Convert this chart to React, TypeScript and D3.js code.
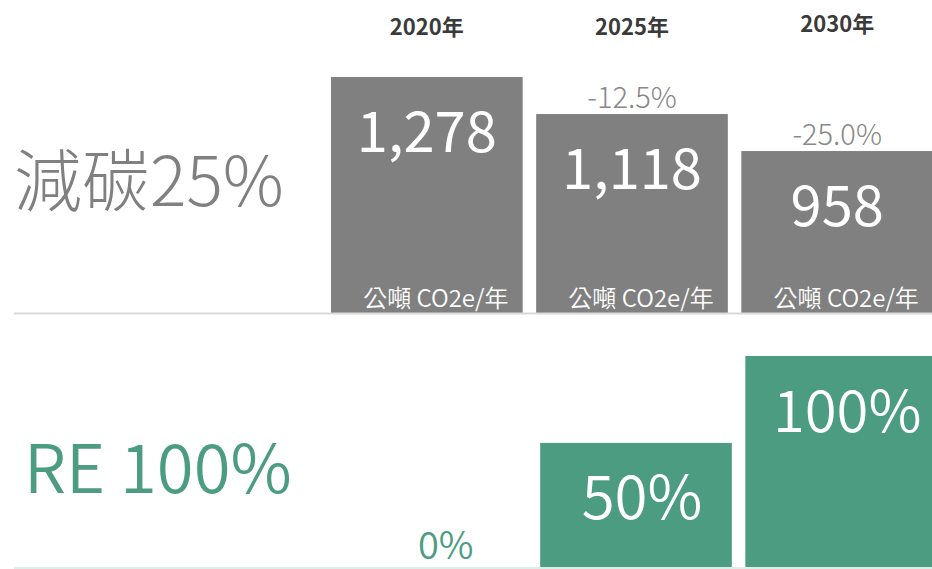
import React from "react";
import * as d3 from "d3";

const years = ["2020年", "2025年", "2030年"];
const emissions = [1278, 1118, 958];
const reShare = [0, 50, 100];
const unitLabel = "公噸 CO2e/年";
const topTitle = "減碳25%";
const bottomTitle = "RE 100%";

const W = 932;
const H = 569;
const FONT = "'Noto Sans CJK TC', 'Noto Sans', sans-serif";
const GRAY = "#808080";
const GREEN = "#4c9c82";

export default function App() {
  const xTop = d3.scaleBand<string>().domain(years).range([331, 933]).paddingInner(0.066);
  const xBot = d3.scaleBand<string>().domain(years).range([335, 937]).paddingInner(0.066);
  const yTop = d3.scaleLinear().domain([258, 1278]).range([313, 77]);
  const yBot = d3.scaleLinear().domain([-22, 100]).range([568, 356]);
  const locale = d3.formatLocale({ decimal: ".", thousands: ",", grouping: [3], currency: ["", ""], minus: "-" });
  const fmtNum = locale.format(",");
  const fmtPct = locale.format(".1f");
  const base = emissions[0];
  const bw = xTop.bandwidth();

  return (
    <svg width={W} height={H} style={{ position: "absolute", left: 0, top: 0, background: "#fff" }} fontFamily={FONT}>
      {/* titles */}
      <text x={14} y={206} fontSize={68} fill={GRAY} fontWeight={300}>{topTitle}</text>
      <text x={24} y={493} fontSize={67} fill={GREEN} fontWeight={350}>{bottomTitle}</text>

      {/* top panel */}
      {years.map((yr, i) => {
        const x0 = xTop(yr)!;
        const cx = x0 + bw / 2;
        const top = yTop(emissions[i]);
        const change = (emissions[i] / base - 1) * 100;
        return (
          <g key={yr}>
            <text x={cx} y={i === 2 ? 32 : 35} textAnchor="middle" fontSize={22} fontWeight={600} fill="#3a3a3a">{yr}</text>
            <rect x={x0} y={top} width={bw} height={313 - top} fill={GRAY} />
            {i > 0 && (
              <text x={cx} y={top - 6} textAnchor="middle" fontSize={29} fill="#888" fontWeight={300}>{fmtPct(change) + "%"}</text>
            )}
            <text x={cx} y={top + 75} textAnchor="middle" fontSize={56} fill="#fff">{fmtNum(emissions[i])}</text>
            <text x={cx + 9} y={307} textAnchor="middle" fontSize={24} fill="#fff" fontWeight={350}>{unitLabel}</text>
          </g>
        );
      })}
      <line x1={14} x2={W} y1={313.5} y2={313.5} stroke="#d9d9d9" strokeWidth={2} />

      {/* bottom panel */}
      {years.map((yr, i) => {
        const x0 = xBot(yr)!;
        const cx = x0 + bw / 2;
        const v = reShare[i];
        const top = yBot(v);
        return (
          <g key={"b" + yr}>
            {v > 0 && <rect x={x0} y={top} width={bw} height={568 - top} fill={GREEN} />}
            {v > 0 ? (
              <text x={cx + 6} y={top + 76} textAnchor="middle" fontSize={i === 2 ? 58 : 60} fill="#fff" fontWeight={350}>{v + "%"}</text>
            ) : (
              <text x={cx + 15} y={559} textAnchor="middle" fontSize={38} fill={GREEN} fontWeight={350}>{v + "%"}</text>
            )}
          </g>
        );
      })}
      <line x1={14} x2={W} y1={568} y2={568} stroke="#dcefe9" strokeWidth={2} />
    </svg>
  );
}
